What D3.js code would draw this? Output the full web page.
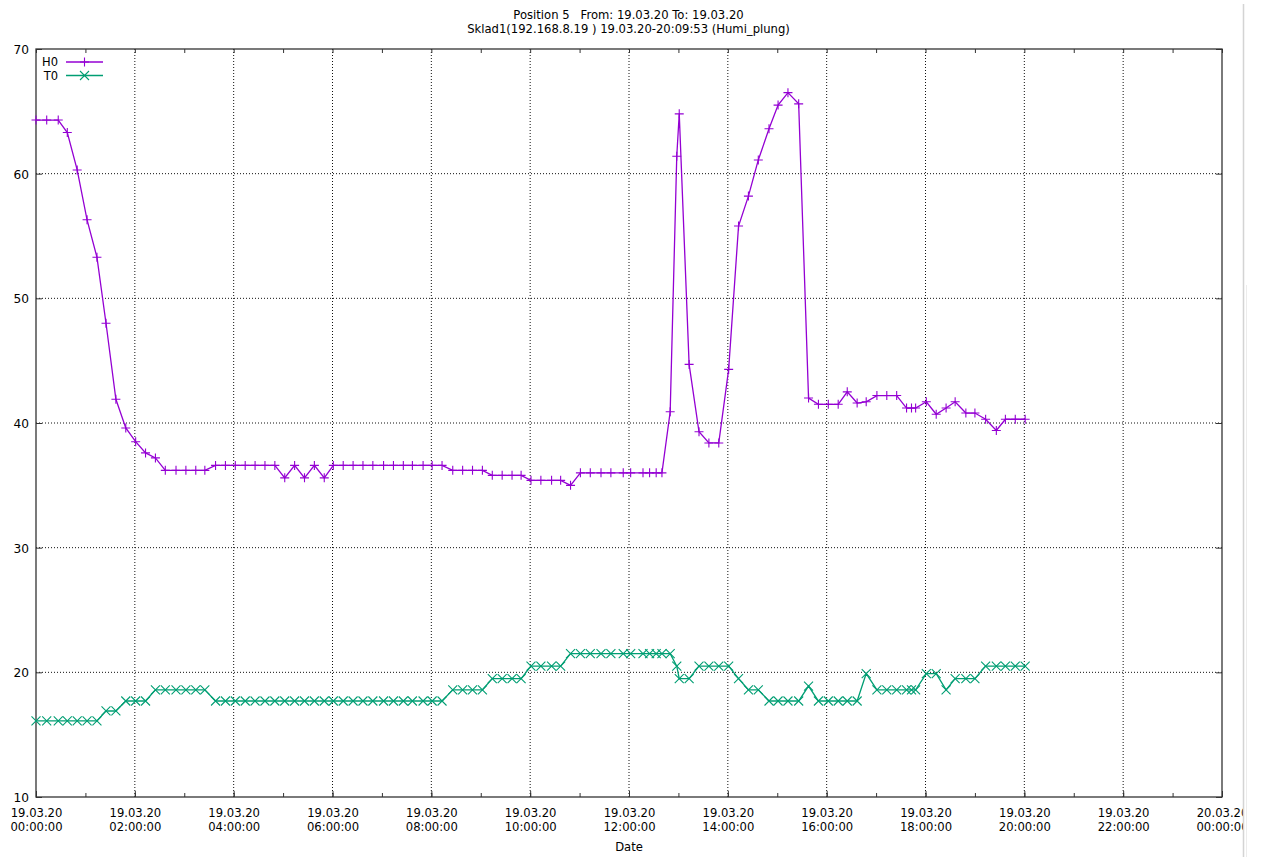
<!DOCTYPE html>
<html>
<head>
<meta charset="utf-8">
<script src="https://cdn.jsdelivr.net/npm/d3@7"></script>
<style>
  body { margin: 0; background: #fff; }
  text { font-family: "DejaVu Sans", sans-serif; fill: #000; }
</style>
</head>
<body>
<svg id="chart" width="1261" height="857"></svg>
<script>
// sample times (19.03.20), shared by both sensors
const times = [
  "00:00","00:13","00:27","00:38","00:50","01:02","01:14","01:25","01:37","01:49",
  "02:01","02:13","02:25","02:37","02:50","03:02","03:14","03:25","03:38","03:50",
  "04:02","04:14","04:26","04:38","04:50","05:02","05:14","05:26","05:38","05:50",
  "06:01","06:13","06:25","06:37","06:49","07:02","07:14","07:26","07:37","07:50",
  "08:01","08:13","08:26","08:38","08:50","09:02","09:14","09:26","09:38","09:49",
  "10:01","10:13","10:26","10:37","10:49","11:01","11:13","11:26","11:38","11:53",
  "12:02","12:17","12:25","12:33","12:40","12:50","12:58","13:01","13:13","13:25",
  "13:37","13:49","14:01","14:13","14:25","14:37","14:50","15:01","15:13","15:26",
  "15:38","15:50","16:02","16:14","16:25","16:37","16:48","17:01","17:13","17:25",
  "17:37","17:43","17:48","18:01","18:13","18:25","18:36","18:49","19:00","19:13",
  "19:26","19:37","19:49","20:01"
];

const h0 = [
  64.3,64.3,64.3,63.3,60.3,56.3,53.3,48.0,41.9,39.6,
  38.5,37.6,37.2,36.2,36.2,36.2,36.2,36.2,36.6,36.6,
  36.6,36.6,36.6,36.6,36.6,35.6,36.6,35.6,36.6,35.6,
  36.6,36.6,36.6,36.6,36.6,36.6,36.6,36.6,36.6,36.6,
  36.6,36.6,36.2,36.2,36.2,36.2,35.8,35.8,35.8,35.8,
  35.4,35.4,35.4,35.4,35.0,36.0,36.0,36.0,36.0,36.0,
  36.0,36.0,36.0,36.0,36.0,40.9,61.4,64.8,44.7,39.3,
  38.4,38.4,44.3,55.8,58.2,61.1,63.6,65.5,66.5,65.6,
  42.0,41.5,41.5,41.5,42.5,41.6,41.7,42.2,42.2,42.2,
  41.2,41.2,41.2,41.7,40.7,41.2,41.7,40.8,40.8,40.3,
  39.4,40.3,40.3,40.3
];

const t0 = [
  16.1,16.1,16.1,16.1,16.1,16.1,16.1,16.9,16.9,17.7,
  17.7,17.7,18.6,18.6,18.6,18.6,18.6,18.6,17.7,17.7,
  17.7,17.7,17.7,17.7,17.7,17.7,17.7,17.7,17.7,17.7,
  17.7,17.7,17.7,17.7,17.7,17.7,17.7,17.7,17.7,17.7,
  17.7,17.7,18.6,18.6,18.6,18.6,19.5,19.5,19.5,19.5,
  20.5,20.5,20.5,20.5,21.5,21.5,21.5,21.5,21.5,21.5,
  21.5,21.5,21.5,21.5,21.5,21.5,20.5,19.5,19.5,20.5,
  20.5,20.5,20.5,19.5,18.6,18.6,17.7,17.7,17.7,17.7,
  18.9,17.7,17.7,17.7,17.7,17.7,19.9,18.6,18.6,18.6,
  18.6,18.6,18.6,19.9,19.9,18.6,19.5,19.5,19.5,20.5,
  20.5,20.5,20.5,20.5
];

const yTicks = [10, 20, 30, 40, 50, 60, 70];
const titleLines = [
  "Position 5   From: 19.03.20 To: 19.03.20",
  "Sklad1(192.168.8.19 ) 19.03.20-20:09:53 (Humi_plung)"
];
const seriesNames = ["H0", "T0"];
const seriesColors = ["#9400d3", "#009e73"];

const svg = d3.select("#chart");
const margin = { top: 49, right: 39, bottom: 60, left: 36 };
const width = 1261, height = 857;

const parse = d3.timeParse("%d.%m.%y %H:%M");
const dates = times.map(t => parse("19.03.20 " + t));

const x = d3.scaleTime()
  .domain([parse("19.03.20 00:00"), parse("20.03.20 00:00")])
  .range([margin.left, width - margin.right]);
const y = d3.scaleLinear()
  .domain([10, 70])
  .range([height - margin.bottom, margin.top]);

const x0 = x.range()[0], x1 = x.range()[1];
const y0 = y.range()[0], y1 = y.range()[1];

// grid
const majorX = d3.timeHour.every(2).range(x.domain()[0], d3.timeHour.offset(x.domain()[1], 1));
svg.append("g")
  .selectAll("line")
  .data(majorX.slice(1, -1))
  .join("line")
  .attr("x1", d => x(d)).attr("x2", d => x(d))
  .attr("y1", y1).attr("y2", y0)
  .attr("stroke", "#111").attr("stroke-width", 1)
  .attr("stroke-dasharray", "1,2");
svg.append("g")
  .selectAll("line")
  .data(yTicks.slice(1, -1))
  .join("line")
  .attr("x1", x0).attr("x2", x1)
  .attr("y1", d => y(d)).attr("y2", d => y(d))
  .attr("stroke", "#111").attr("stroke-width", 1)
  .attr("stroke-dasharray", "1,2");

// axes with inward ticks
const bottom = svg.append("g")
  .attr("transform", `translate(0,${y0})`)
  .call(d3.axisBottom(x).ticks(d3.timeHour.every(2)).tickSize(-6).tickPadding(0).tickFormat(""));
bottom.select(".domain").remove();
svg.append("g")
  .attr("transform", `translate(0,${y0})`)
  .call(d3.axisBottom(x).ticks(d3.timeHour.every(1)).tickSize(-4).tickFormat(""))
  .call(g => g.select(".domain").remove());
svg.append("g")
  .attr("transform", `translate(0,${y1})`)
  .call(d3.axisTop(x).ticks(d3.timeHour.every(1)).tickSize(-4).tickFormat(""))
  .call(g => g.select(".domain").remove());

bottom.selectAll(".tick").append("text")
  .attr("text-anchor", "middle")
  .style("font-size", "11.6px")
  .each(function(d) {
    const t = d3.select(this);
    t.append("tspan").attr("x", 0).attr("y", 20).text(d3.timeFormat("%d.%m.%y")(d));
    t.append("tspan").attr("x", 0).attr("y", 34).text(d3.timeFormat("%H:%M:%S")(d));
  });

const left = svg.append("g")
  .attr("transform", `translate(${x0},0)`)
  .call(d3.axisLeft(y).tickValues(yTicks).tickSize(-6).tickPadding(8).tickFormat(d3.format("d")));
left.select(".domain").remove();
left.selectAll(".tick text")
  .style("font-size", "12.2px").attr("dy", "0.36em").attr("x", -7).attr("fill", "#000");
svg.append("g")
  .attr("transform", `translate(${x1},0)`)
  .call(d3.axisRight(y).tickValues(yTicks).tickSize(-6).tickFormat(""))
  .call(g => g.select(".domain").remove());

svg.selectAll(".tick line").attr("stroke", "#333");

// border
svg.append("rect")
  .attr("x", x0).attr("y", y1)
  .attr("width", x1 - x0).attr("height", y0 - y1)
  .attr("fill", "none").attr("stroke", "#333").attr("stroke-width", 1.3);

// series
const plusPath = "M-4.5,0H4.5M0,-4.5V4.5";
const crossPath = "M-4.5,-4.5L4.5,4.5M-4.5,4.5L4.5,-4.5";
const markers = [plusPath, crossPath];
const seriesValues = [h0, t0];

const line = d3.line().x(d => x(d[0])).y(d => y(d[1]));

seriesValues.forEach((vals, i) => {
  const pts = dates.map((d, j) => [d, vals[j]]);
  const g = svg.append("g");
  g.append("path")
    .datum(pts)
    .attr("d", line)
    .attr("fill", "none")
    .attr("stroke", seriesColors[i])
    .attr("stroke-width", 1.3);
  g.selectAll("path.m")
    .data(pts)
    .join("path")
    .attr("class", "m")
    .attr("d", markers[i])
    .attr("transform", d => `translate(${x(d[0])},${y(d[1])})`)
    .attr("fill", "none")
    .attr("stroke", seriesColors[i])
    .attr("stroke-width", 1.1);
});

// legend
const legend = svg.append("g");
seriesNames.forEach((name, i) => {
  const ly = 62 + i * 13.5;
  legend.append("text")
    .attr("x", 58).attr("y", ly).attr("dy", "0.36em")
    .attr("text-anchor", "end")
    .style("font-size", "11.5px")
    .text(name);
  legend.append("line")
    .attr("x1", 66).attr("x2", 103).attr("y1", ly).attr("y2", ly)
    .attr("stroke", seriesColors[i]).attr("stroke-width", 1.3);
  legend.append("path")
    .attr("d", markers[i])
    .attr("transform", `translate(84.5,${ly})`)
    .attr("fill", "none")
    .attr("stroke", seriesColors[i]).attr("stroke-width", 1.1);
});

// title and x label
svg.append("g")
  .selectAll("text")
  .data(titleLines)
  .join("text")
  .attr("x", 628.5)
  .attr("y", (d, i) => 19 + i * 14)
  .attr("text-anchor", "middle")
  .style("font-size", "11.6px")
  .style("white-space", "pre")
  .text(d => d);

svg.append("text")
  .attr("x", 629).attr("y", 851)
  .attr("text-anchor", "middle")
  .style("font-size", "11.6px")
  .text("Date");

// window edge on the right
svg.append("rect").attr("x", 1243).attr("y", 0).attr("width", 18).attr("height", height).attr("fill", "#fff");
svg.append("line").attr("x1", 1243.5).attr("x2", 1243.5).attr("y1", 4).attr("y2", height)
  .attr("stroke", "#d4d4d4").attr("stroke-width", 1.5);
svg.append("line").attr("x1", 1246.5).attr("x2", 1246.5).attr("y1", 285).attr("y2", height)
  .attr("stroke", "#ececec").attr("stroke-width", 1);
</script>
</body>
</html>
